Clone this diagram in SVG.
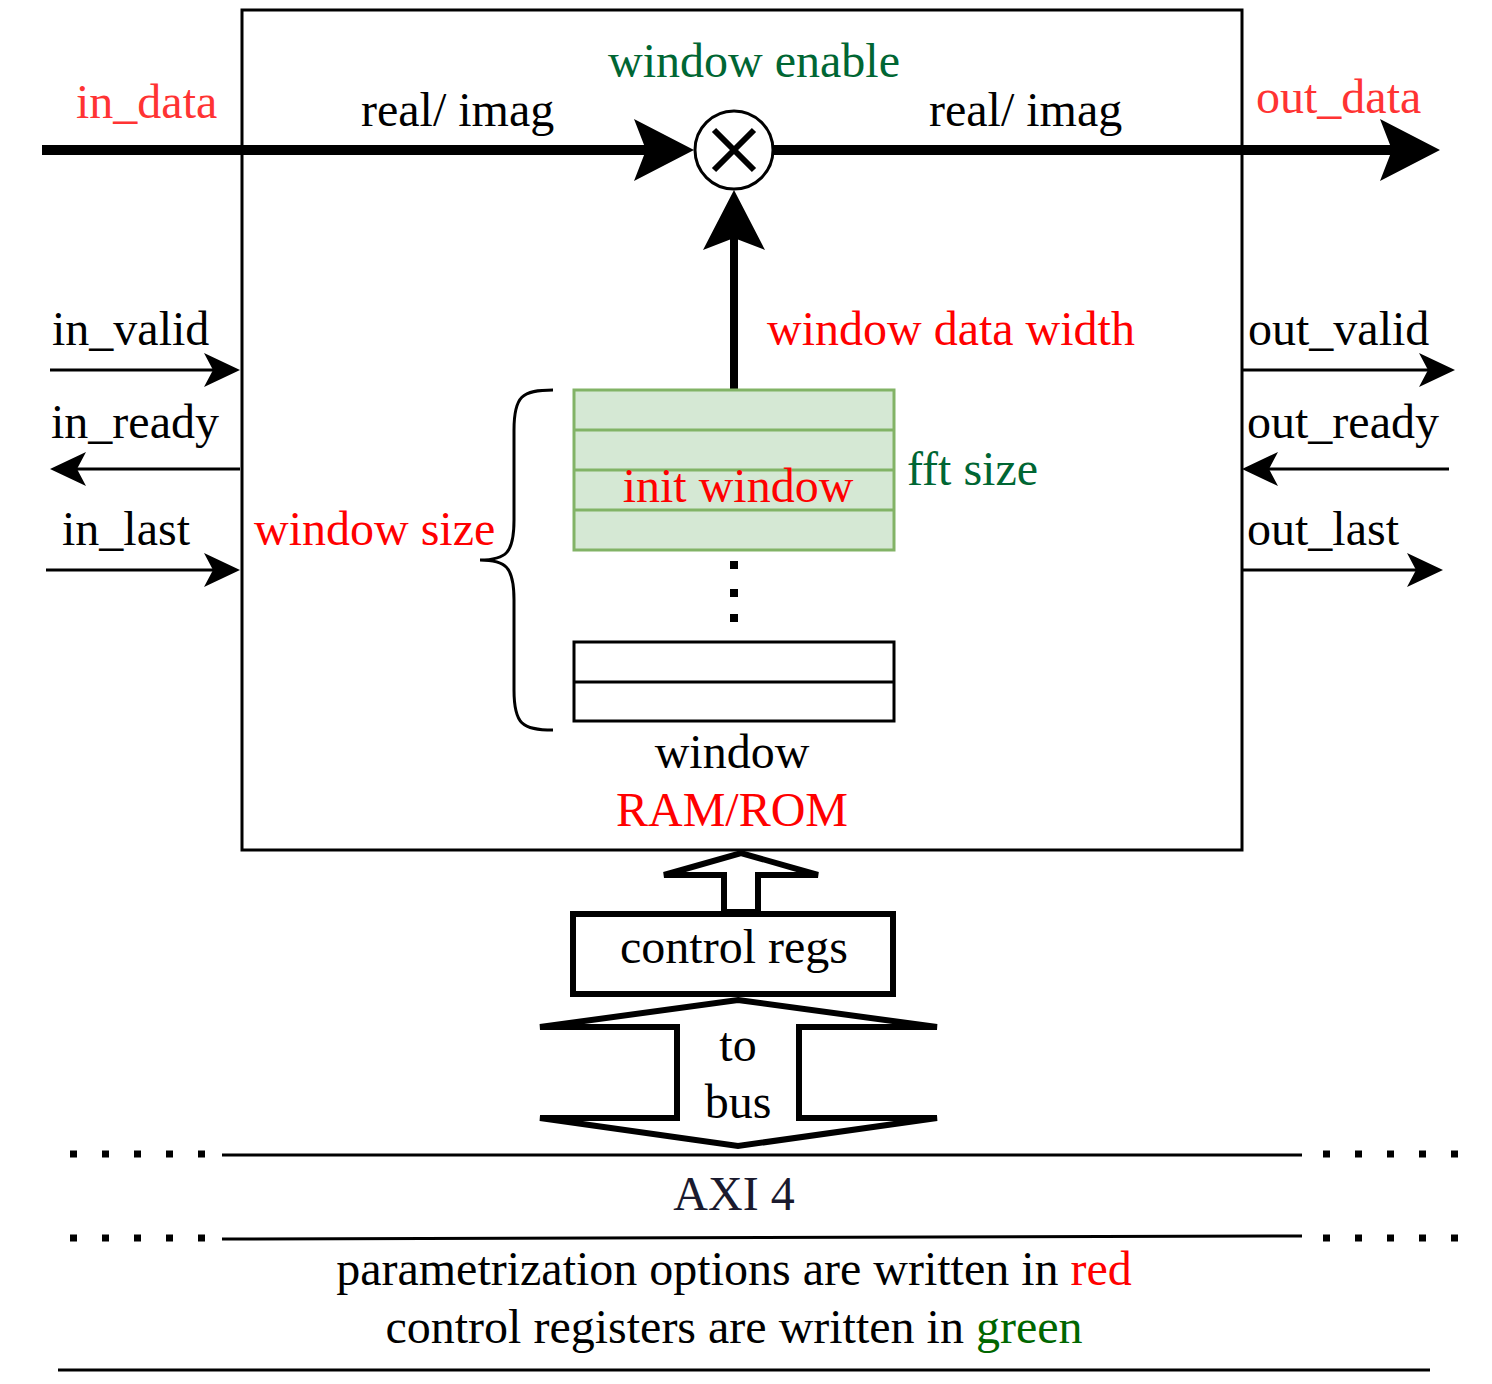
<svg xmlns="http://www.w3.org/2000/svg" width="1492" height="1384" viewBox="0 0 1492 1384">
<style>
text{font-family:"Liberation Serif","Times New Roman",serif;font-size:48px;fill:#000}
.red{fill:#ff0000}
.lred{fill:#ff3333}
.grn{fill:#006633}
.leg-g{fill:#006600}
.axi{fill:#1a1a2e}
.thin{stroke:#000;stroke-width:3;fill:none}
.thick{stroke:#000;stroke-width:10;fill:none}
.heavy{stroke:#000;stroke-width:6;fill:#fff;stroke-linejoin:miter}
.dots{stroke:#000;stroke-width:7;stroke-dasharray:7 25;fill:none}
</style>
<defs>
<marker id="ah" viewBox="0 0 36 34" refX="9" refY="17" markerWidth="36" markerHeight="34" markerUnits="userSpaceOnUse" orient="auto">
<path d="M0,0 L36,17 L0,34 L9,17 Z" fill="#000"/>
</marker>
<marker id="AH" viewBox="0 0 60 62" refX="12" refY="31" markerWidth="60" markerHeight="62" markerUnits="userSpaceOnUse" orient="auto">
<path d="M0,0 L60,31 L0,62 L12,31 Z" fill="#000"/>
</marker>
</defs>

<g id="block">
<rect x="242" y="10" width="1000" height="840" fill="none" stroke="#000" stroke-width="3"/>
</g>

<g id="connectors">
<line class="thick" x1="42" y1="150" x2="646" y2="150" marker-end="url(#AH)"/>
<line class="thick" x1="773" y1="150" x2="1392" y2="150" marker-end="url(#AH)"/>
<line x1="734" y1="390" x2="734" y2="238" stroke="#000" stroke-width="8" marker-end="url(#AH)"/>
<line class="thin" x1="50" y1="370" x2="213" y2="370" marker-end="url(#ah)"/>
<line class="thin" x1="240" y1="469" x2="77" y2="469" marker-end="url(#ah)"/>
<line class="thin" x1="46" y1="570" x2="213" y2="570" marker-end="url(#ah)"/>
<line class="thin" x1="1242" y1="370" x2="1428" y2="370" marker-end="url(#ah)"/>
<line class="thin" x1="1449" y1="469" x2="1269" y2="469" marker-end="url(#ah)"/>
<line class="thin" x1="1242" y1="570" x2="1416" y2="570" marker-end="url(#ah)"/>
</g>

<g id="multiplier">
<circle cx="734" cy="150" r="39" fill="#fff" stroke="#000" stroke-width="3"/>
<path d="M714,130 L754,170 M754,130 L714,170" stroke="#000" stroke-width="6"/>
</g>

<g id="labels-top">
<text class="lred" x="76" y="118">in_data</text>
<text x="361" y="126">real/ imag</text>
<text class="grn" x="754" y="77" text-anchor="middle">window enable</text>
<text x="929" y="126">real/ imag</text>
<text class="lred" x="1256" y="113">out_data</text>
<text class="red" x="767" y="345">window data width</text>
</g>

<g id="signals">
<text x="52" y="345">in_valid</text>
<text x="51" y="438">in_ready</text>
<text x="62" y="545">in_last</text>
<text x="1248" y="345">out_valid</text>
<text x="1247" y="438">out_ready</text>
<text x="1247" y="545">out_last</text>
</g>

<g id="init-window">
<rect x="574" y="390" width="320" height="160" fill="#d5e8d4" stroke="#82b366" stroke-width="3"/>
<path d="M574,430 H894 M574,470 H894 M574,510 H894" stroke="#82b366" stroke-width="3"/>
<text class="red" x="738" y="502" text-anchor="middle">init window</text>
<text class="grn" x="907" y="485">fft size</text>
</g>

<g id="ellipsis">
<rect x="730" y="561" width="8" height="8"/>
<rect x="730" y="589" width="8" height="8"/>
<rect x="730" y="614" width="8" height="8"/>
</g>

<g id="window-ram">
<rect x="574" y="642" width="320" height="79" fill="#fff" stroke="#000" stroke-width="3"/>
<line x1="574" y1="682" x2="894" y2="682" stroke="#000" stroke-width="3"/>
<text x="732" y="768" text-anchor="middle">window</text>
<text class="red" x="732" y="826" text-anchor="middle">RAM/ROM</text>
</g>

<g id="window-size">
<path class="thin" d="M553,390 C522,390 514,396 514,430 L514,520 C514,553 506,560 480,560 C506,560 514,567 514,600 L514,690 C514,724 522,730 553,730"/>
<text class="red" x="254" y="545">window size</text>
</g>

<g id="control-arrow">
<polygon class="heavy" points="724,912 724,875 664,875 741,853 818,875 758,875 758,912"/>
</g>

<g id="control-regs">
<rect x="573" y="914" width="320" height="80" fill="#fff" stroke="#000" stroke-width="6"/>
<text x="734" y="963" text-anchor="middle">control regs</text>
</g>

<g id="to-bus">
<polygon class="heavy" points="738,1000 937,1027 799,1027 799,1118 937,1118 738,1146 540,1118 677,1118 677,1027 540,1027"/>
<text x="738" y="1061" text-anchor="middle">to</text>
<text x="738" y="1118" text-anchor="middle">bus</text>
</g>

<g id="axi-bus">
<line class="dots" x1="70" y1="1154" x2="210" y2="1154"/>
<line class="thin" x1="222" y1="1155" x2="1302" y2="1155"/>
<line class="dots" x1="1323" y1="1154" x2="1463" y2="1154"/>
<line class="dots" x1="70" y1="1238" x2="210" y2="1238"/>
<line class="thin" x1="222" y1="1239" x2="1302" y2="1236"/>
<line class="dots" x1="1323" y1="1238" x2="1463" y2="1238"/>
<text class="axi" x="734" y="1210" text-anchor="middle">AXI 4</text>
</g>

<g id="legend">
<text x="734" y="1285" text-anchor="middle">parametrization options are written in <tspan class="red">red</tspan></text>
<text x="734" y="1343" text-anchor="middle">control registers are written in <tspan class="leg-g">green</tspan></text>
<line class="thin" x1="58" y1="1370" x2="1430" y2="1370"/>
</g>
</svg>
